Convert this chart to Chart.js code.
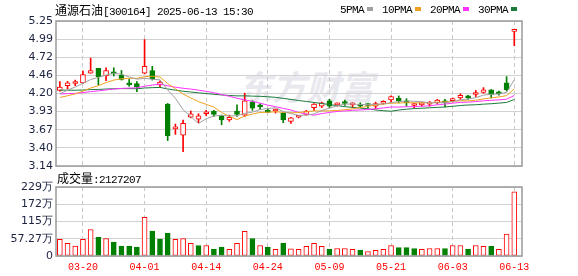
<!DOCTYPE html>
<html><head><meta charset="utf-8">
<script src="https://cdn.jsdelivr.net/npm/chart.js@4.4.1/dist/chart.umd.min.js"></script>
<style>
html,body{margin:0;padding:0;background:#fff;}
#wrap{position:relative;width:578px;height:276px;overflow:hidden;background:#fff;}
canvas{position:absolute;left:0;}
#c1{top:0;}
#c2{top:170px;}
.t{position:absolute;white-space:nowrap;font-size:12px;line-height:13px;color:#000;}
.m{font-family:"Liberation Mono",monospace;font-size:11px;letter-spacing:-0.6px;}
.cjk{font-family:"Noto Sans CJK SC";font-size:12px;}
.sw{display:inline-block;width:6px;height:4px;vertical-align:middle;margin:0 9px 0 3px;position:relative;top:-1px;}
#wm{position:absolute;left:238px;top:66px;font-family:"Noto Sans CJK SC";font-weight:bold;font-style:italic;font-size:34px;line-height:40px;color:#e8e8ee;white-space:nowrap;}
</style></head>
<body>
<div id="wrap">
  <div id="wm">东方财富</div>
  <canvas id="c1" width="578" height="173"></canvas>
  <canvas id="c2" width="578" height="106"></canvas>
  <div id="title" class="t" style="left:55px;top:3px;"></div>
  <div id="legend" class="t" style="left:340px;top:3px;"></div>
  <div id="vlabel" class="t" style="left:57px;top:171px;"></div>
</div>
<script>
// ---------- data ----------
const stockName = '通源石油';
const stockCode = '300164';
const stamp = '2025-06-13 15:30';
const dates = ['03-17','03-18','03-19','03-20','03-21','03-24','03-25','03-26','03-27','03-28','03-31',
 '04-01','04-02','04-03','04-07','04-08','04-09','04-10','04-11','04-14','04-15','04-16','04-17','04-18','04-21','04-22','04-23','04-24','04-25','04-28','04-29','04-30',
 '05-06','05-07','05-08','05-09','05-12','05-13','05-14','05-15','05-16','05-19','05-20','05-21','05-22','05-23','05-26','05-27','05-28','05-29','05-30',
 '06-03','06-04','06-05','06-06','06-09','06-10','06-11','06-12','06-13'];
const xTickIdx = [3,11,19,27,35,43,51,59];
const open = [4.24,4.31,4.34,4.35,4.49,4.56,4.45,4.50,4.46,4.35,
 4.34,4.49,4.53,4.32,4.04,3.68,3.59,3.85,3.82,3.90,
 3.94,3.87,3.81,3.94,3.88,4.07,4.01,3.95,3.94,3.91,
 3.79,3.85,3.89,3.99,4.01,4.09,4.03,4.07,4.03,4.04,
 4.03,4.01,4.05,4.10,4.13,4.08,4.02,4.03,4.04,4.06,
 4.08,4.09,4.13,4.16,4.18,4.21,4.25,4.21,4.35,5.10];
const high = [4.37,4.37,4.39,4.52,4.71,4.56,4.57,4.57,4.53,4.40,
 4.37,4.98,4.59,4.38,4.05,3.75,3.81,3.94,3.90,3.95,
 3.95,3.88,3.88,4.03,4.20,4.09,4.05,3.97,3.97,3.92,
 3.85,3.87,3.95,4.05,4.07,4.11,4.06,4.10,4.06,4.06,
 4.05,4.07,4.09,4.16,4.16,4.12,4.05,4.06,4.08,4.11,
 4.11,4.13,4.19,4.17,4.24,4.28,4.25,4.23,4.44,5.10];
const low = [4.23,4.26,4.31,4.34,4.49,4.32,4.38,4.45,4.39,4.30,
 4.22,4.48,4.39,4.29,3.51,3.60,3.35,3.84,3.77,3.87,
 3.86,3.74,3.79,3.86,3.86,3.95,3.96,3.92,3.91,3.77,
 3.76,3.84,3.88,3.95,3.99,3.99,4.01,4.02,3.99,3.99,
 3.99,3.97,4.04,4.06,4.06,4.01,3.99,4.01,4.01,4.04,
 4.00,4.07,4.11,4.11,4.15,4.20,4.13,4.17,4.23,4.89];
const close = [4.29,4.35,4.35,4.47,4.53,4.44,4.53,4.48,4.40,4.32,
 4.29,4.59,4.41,4.36,3.58,3.69,3.76,3.90,3.87,3.92,
 3.89,3.81,3.85,3.89,4.09,3.98,4.00,3.92,3.95,3.81,
 3.84,3.86,3.94,4.04,4.06,4.01,4.04,4.05,4.06,4.01,
 4.02,4.05,4.08,4.15,4.09,4.06,4.03,4.05,4.06,4.10,
 4.06,4.12,4.17,4.13,4.19,4.25,4.18,4.19,4.25,5.10];
// closes before the first visible day (estimated so the moving averages start where drawn)
const priorCloses = [4.40,4.38,4.36,4.35,4.37,4.36,4.34,4.35,4.33,4.34,
 4.27,4.26,4.25,4.24,4.23,4.24,4.23,4.22,4.23,4.23,
 4.10,4.08,4.06,4.08,4.10,4.08,4.12,4.20,4.26];
const volume = [550000,420000,330000,550000,880000,620000,580000,460000,330000,330000,
 300000,1280000,830000,560000,760000,550000,580000,420000,350000,350000,
 230000,300000,220000,420000,820000,580000,350000,300000,220000,430000,
 240000,220000,320000,420000,320000,230000,250000,250000,220000,200000,
 150000,190000,220000,350000,280000,280000,250000,220000,250000,250000,
 250000,350000,350000,230000,350000,320000,320000,220000,730000,2127207];
const priceTickLabels = ['3.14','3.40','3.67','3.93','4.20','4.46','4.72','4.99','5.25'];
const volTickLabels = ['0','57.27万','115万','172万','229万'];
const volMax = 2290800;
const maPeriods = [5,10,20,30];
const maNames = ['5PMA','10PMA','20PMA','30PMA'];
const maColors = ['#a0a0a0','#f0a020','#ff33ff','#1a7a3a'];

// ---------- derived ----------
const RED = '#ff0000', GREEN = '#008000';
const N = close.length;
const priceMin = parseFloat(priceTickLabels[0]);
const priceMax = parseFloat(priceTickLabels[priceTickLabels.length-1]);
const allC = priorCloses.concat(close);
function movingAvg(n){
  return close.map((_, i) => {
    const e = priorCloses.length + i; let s = 0;
    for (let k = e - n + 1; k <= e; k++) s += allC[k];
    return s / n;
  });
}
const candleUp = close.map((c, i) => c >= open[i]);
const volUp = close.map((c, i) => c >= (i === 0 ? priorCloses[priorCloses.length-1] : close[i-1]));

// ---------- text ----------
document.getElementById('title').innerHTML =
  '<span class="cjk">' + stockName + '</span><span class="m">[' + stockCode + '] ' + stamp + '</span>';
document.getElementById('legend').innerHTML = maNames.map((n, k) =>
  '<span class="m">' + n + '</span><span class="sw" style="background:' + maColors[k] + '"></span>').join('');
document.getElementById('vlabel').innerHTML =
  '<span class="cjk">成交量</span><span class="m">:' + volume[N-1] + '</span>';

// ---------- charts ----------
const frame = { id: 'frame', afterDatasetsDraw(chart){
  const {ctx, chartArea: a} = chart; ctx.save();
  ctx.strokeStyle = '#9a9a9a'; ctx.lineWidth = 1.5;
  ctx.strokeRect(a.left, a.top, a.right - a.left, a.bottom - a.top); ctx.restore(); } };

function xScale(show){
  return {
    type: 'linear', min: -0.5, max: 60, offset: false,
    afterBuildTicks(s){ s.ticks = xTickIdx.map(v => ({value: v})); },
    ticks: { display: show, autoSkip: false, maxRotation: 0, color: RED,
      font: {family: 'Liberation Mono', size: 10}, padding: 5, callback: v => dates[v] },
    grid: { color: '#c8c8c8', lineWidth: 1, drawTicks: false, offset: false },
    border: { display: false, dash: [4, 3] },
    afterFit(s){ s.height = show ? 20 : 0; s.paddingLeft = 0; s.paddingRight = 0; }
  };
}
function yScale(min, max, labels){
  return {
    min: min, max: max,
    afterBuildTicks(s){ s.ticks = labels.map((_, k) => ({value: min + k * (max - min) / (labels.length - 1)})); },
    ticks: { autoSkip: false, color: '#1c2340', font: {family: 'DejaVu Sans', size: 11}, padding: 3,
      callback: (v, k) => labels[k] },
    grid: { color: '#d2d2d2', drawTicks: false },
    border: { display: false },
    afterFit(s){ s.width = 56; s.paddingTop = 0; s.paddingBottom = 0; }
  };
}
const common = { responsive: false, animation: false, events: [],
  plugins: { legend: {display: false}, tooltip: {enabled: false} } };

const idx = close.map((_, i) => i);
const maSets = maPeriods.map((p, k) => {
  const m = movingAvg(p);
  return { type: 'line', data: idx.map(i => ({x: i, y: m[i]})), borderColor: maColors[k],
    borderWidth: 1, pointRadius: 0, tension: 0, order: 0 };
});

new Chart(document.getElementById('c1'), {
  type: 'bar',
  data: { datasets: [
    ...maSets,
    { data: idx.map(i => ({x: i, y: [open[i], close[i]]})), grouped: false, barThickness: 5,
      backgroundColor: idx.map(i => candleUp[i] ? '#ffffff' : GREEN),
      borderColor: idx.map(i => candleUp[i] ? RED : GREEN),
      borderWidth: 1, borderSkipped: false, minBarLength: 2, order: 1 },
    { data: idx.map(i => ({x: i, y: [low[i], high[i]]})), grouped: false, barThickness: 1,
      backgroundColor: idx.map(i => candleUp[i] ? RED : GREEN), borderWidth: 0, order: 2 }
  ]},
  options: Object.assign({}, common, {
    layout: { padding: {left: 0, right: 56, top: 21, bottom: 7} },
    scales: { x: xScale(false), y: yScale(priceMin, priceMax, priceTickLabels) }
  }),
  plugins: [frame]
});

new Chart(document.getElementById('c2'), {
  type: 'bar',
  data: { datasets: [
    { data: idx.map(i => ({x: i, y: volume[i]})), grouped: false, barThickness: 5,
      backgroundColor: idx.map(i => volUp[i] ? '#ffffff' : GREEN),
      borderColor: idx.map(i => volUp[i] ? RED : GREEN),
      borderWidth: 1, borderSkipped: false }
  ]},
  options: Object.assign({}, common, {
    layout: { padding: {left: 0, right: 56, top: 17, bottom: 0} },
    scales: { x: xScale(true), y: yScale(0, volMax, volTickLabels) }
  }),
  plugins: [frame]
});
</script>
</body></html>
